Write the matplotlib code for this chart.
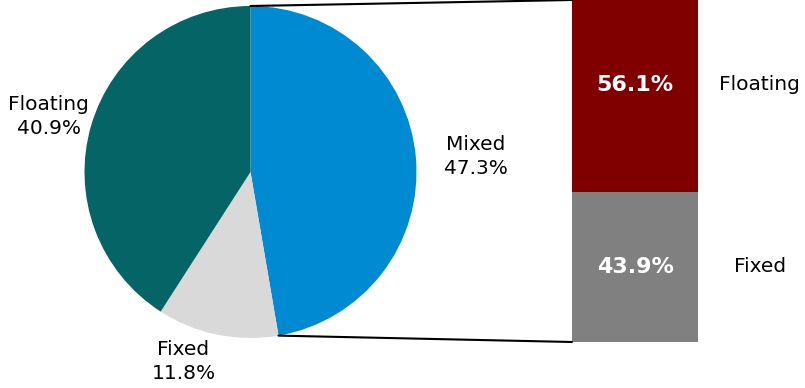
import numpy as np
import matplotlib.pyplot as plt
from matplotlib.patches import ConnectionPatch

# pie data
pie_labels = ["Mixed", "Fixed", "Floating"]
pie_values = [47.3, 11.8, 40.9]
pie_colors = ["#008AD2", "#D9D9D9", "#046466"]

# bar data (breakdown of mixed)
bar_labels = ["Fixed", "Floating"]
bar_values = [43.9, 56.1]
bar_colors = ["#808080", "#800000"]

plt.rcParams['font.family'] = ['DejaVu Sans']

fig = plt.figure(figsize=(8.05, 3.88), dpi=100)
W, H = 805, 388

# pie axes: centre ~ (250, 172) px, radius ~166 px
cx, cy, r = 250.5, 172, 166
ax1 = fig.add_axes([(cx - r) / W, (H - cy - r) / H, 2 * r / W, 2 * r / H])
wedges, _ = ax1.pie(pie_values, colors=pie_colors, startangle=90, counterclock=False,
                    radius=1, wedgeprops=dict(linewidth=0))
ax1.set_xlim(-1, 1)
ax1.set_ylim(-1, 1)
ax1.set_aspect('equal')
ax1.axis('off')

# label positions: distance from centre per label, small angle tweak
label_dist = [1.36, 1.21, 1.26]
label_shift = [-1.0, -8.0, 1.0]
for w, lab, val, d, s in zip(wedges, pie_labels, pie_values, label_dist, label_shift):
    ang = np.deg2rad((w.theta1 + w.theta2) / 2 + s)
    ax1.text(d * np.cos(ang), d * np.sin(ang), f"{lab}\n{val}%", ha='center', va='center',
             fontsize=14.5, color='black', linespacing=1.35)

# bar axes
bx0, bx1, by0, by1 = 572, 698, 0, 342
ax2 = fig.add_axes([bx0 / W, (H - by1) / H, (bx1 - bx0) / W, (by1 - by0) / H])
text_lift = [0, 3.2]  # the top label sits a little above its segment centre
bottom = 0
for lab, val, col, lift in zip(bar_labels, bar_values, bar_colors, text_lift):
    ax2.bar(0, val, width=1, bottom=bottom, color=col, linewidth=0)
    ty = bottom + val / 2 + lift
    ax2.text(0, ty, f"{val}%", ha='center', va='center', color='white',
             fontsize=16, fontweight='bold')
    ax2.text(0.99, ty, lab, ha='center', va='center', color='black', fontsize=14.5)
    bottom += val
ax2.set_xlim(-0.5, 0.5)
ax2.set_ylim(0, sum(bar_values))
ax2.axis('off')

# connecting lines from the mixed wedge to the bar
mixed = wedges[0]
t1, t2 = np.deg2rad(mixed.theta2), np.deg2rad(mixed.theta1)
con = ConnectionPatch(xyA=(-0.5, sum(bar_values)), coordsA=ax2.transData,
                      xyB=(np.cos(t1), np.sin(t1)), coordsB=ax1.transData,
                      color='black', linewidth=1.5)
fig.add_artist(con)
con = ConnectionPatch(xyA=(-0.5, 0), coordsA=ax2.transData,
                      xyB=(np.cos(t2), np.sin(t2)), coordsB=ax1.transData,
                      color='black', linewidth=1.5)
fig.add_artist(con)

fig.savefig("out.png", dpi=100)
